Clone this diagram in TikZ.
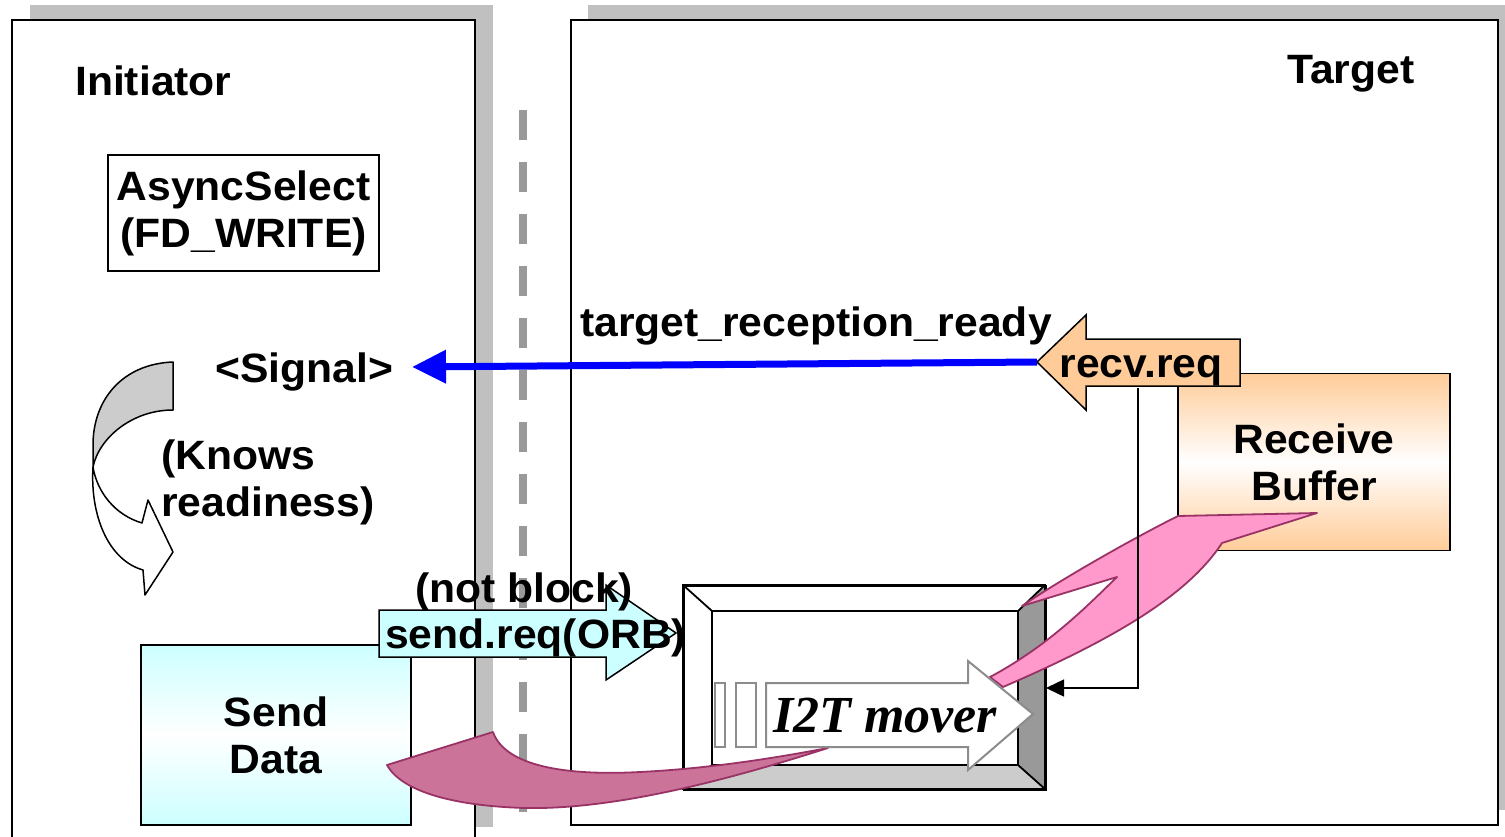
\documentclass[tikz,border=0pt]{standalone}
\usepackage{fontspec}
\setmainfont{Liberation Sans}[FakeStretch=1.04]
\newfontfamily\tnrfont{Liberation Serif}
\usetikzlibrary{arrows.meta}
\definecolor{shadowgray}{HTML}{C0C0C0}
\definecolor{dashgray}{HTML}{999999}
\definecolor{orangeC}{HTML}{FFCC99}
\definecolor{cyanC}{HTML}{CCFFFF}
\definecolor{pinkL}{HTML}{FF99CC}
\definecolor{pinkD}{HTML}{CC7399}
\definecolor{pinkS}{HTML}{993366}
\definecolor{curvegray}{HTML}{CCCCCC}
\definecolor{bevelD}{HTML}{999999}
\definecolor{bevelL}{HTML}{CCCCCC}
\definecolor{moverline}{HTML}{8C8C8C}
\newcommand\lblfont{\fontsize{41}{47}\selectfont\bfseries}
\tikzset{
  panelbox/.style={draw=black, line width=1.6pt, fill=white},
  shadowbox/.style={fill=shadowgray, draw=none},
  labelbox/.style={draw=black, line width=1.6pt, align=center, font=\lblfont, inner sep=0pt},
  lbl/.style={font=\lblfont, inner sep=0pt},
  blockarrow/.style={draw=black, line width=1.5pt, line join=miter},
  pinkshape/.style={draw=pinkS, line width=1.8pt, line join=round},
  bluearrow/.style={draw=blue, line width=7pt, -{Triangle[length=34pt,width=32pt]}},
  thinconn/.style={draw=black, line width=1.5pt, -{Triangle[length=18pt,width=17pt]}},
  moverarrow/.style={draw=moverline, line width=2pt, fill=white, line join=miter},
  dashline/.style={draw=dashgray, line width=8pt, dash pattern=on 30pt off 22pt}
}
\begin{document}
\begin{tikzpicture}[x=1pt,y=-1pt]
\useasboundingbox (0,0) rectangle (1505,837);
\clip (0,0) rectangle (1505,837);

% panels with shadows
\fill[shadowbox] (30,5) rectangle (493,827);
\draw[panelbox] (12,20) rectangle (475,845);
\fill[shadowbox] (588,5) rectangle (1515,810);
\draw[panelbox] (571,20) rectangle (1498,825);

% dashed separator
\draw[dashline] (523,110) -- (523,812);

% titles
\node[lbl, anchor=base west] (initiator) at (75,96) {Initiator};
\node[lbl, anchor=base west] (target) at (1287,84) {Target};

% AsyncSelect box
\node[labelbox, fill=white, minimum width=271pt, minimum height=116pt] (async) at (243.5,213) {AsyncSelect\\(FD\_WRITE)};

% Receive buffer
\node[labelbox, top color=orangeC, bottom color=orangeC, middle color=white,
      minimum width=272pt, minimum height=177pt] (rbuf) at (1314,462) {Receive\\Buffer};

% Send data
\node[labelbox, top color=cyanC, bottom color=cyanC, middle color=white,
      minimum width=270pt, minimum height=180pt] (sdata) at (276,735) {Send\\Data};

% curved arrow (knows readiness)
\filldraw[fill=curvegray, draw=black, line width=1.5pt, line join=round]
  (173,362) .. controls (122,364) and (93,400) .. (93,445) -- (93,467)
  .. controls (99,438) and (132,410) .. (173,410) -- cycle;
\filldraw[fill=white, draw=black, line width=1.5pt, line join=round]
  (93,467) .. controls (90,515) and (108,560) .. (143,570)
  -- (145,595) -- (173,552) -- (148,500) -- (142,523)
  .. controls (115,515) and (97,492) .. (93,467) -- cycle;

% I2T mover box (beveled)
\node[draw=black, line width=1.8pt, fill=white, minimum width=362pt, minimum height=204pt,
      inner sep=0pt, anchor=north west] (i2t) at (683,585) {};
\fill[bevelD] (1045,585) -- (1045,789) -- (1018,765) -- (1018,611) -- cycle;
\fill[bevelL] (683,789) -- (1045,789) -- (1018,765) -- (712,765) -- cycle;
\draw[line width=1.8pt] (683,585) rectangle (1045,789);
\draw[line width=1.8pt] (712,611) rectangle (1018,765);
\draw[line width=1.8pt] (683,585) -- (712,611) (1045,585) -- (1018,611)
  (683,789) -- (712,765) (1045,789) -- (1018,765);

% pink arrows
\filldraw[pinkshape, fill=pinkD]
  (387,765) -- (493,732) .. controls (505,766) and (565,776) .. (640,772)
  .. controls (720,768) and (790,755) .. (828,748)
  .. controls (740,776) and (620,810) .. (525,808)
  .. controls (455,806) and (402,792) .. (387,765) -- cycle;
\filldraw[pinkshape, fill=pinkL]
  (1317,513) -- (1178,516) .. controls (1130,540) and (1060,580) .. (1022,606)
  -- (1117,577) .. controls (1090,603) and (1050,645) .. (990,677)
  -- (1003,687) .. controls (1100,645) and (1185,600) .. (1222,543)
  -- cycle;

% I2T mover arrow
\draw[moverarrow] (715,683) rectangle (725,747);
\draw[moverarrow] (736,683) rectangle (756,747);
\draw[moverarrow] (766,683) -- (968,683) -- (968,661) -- (1033,714) -- (968,770) -- (968,747) -- (766,747) -- cycle;
\node[inner sep=0pt, anchor=base] (moverlbl) at (885,732) {\fontsize{52}{58}\selectfont\tnrfont\bfseries\itshape I2T mover};

% recv.req block arrow
\draw[blockarrow, fill=orangeC] (1037,362) -- (1086,315) -- (1086,339) -- (1240,339) -- (1240,386) -- (1086,386) -- (1086,410) -- cycle;
\node[lbl, anchor=base] (recvreq) at (1141,377) {recv.req};
\coordinate (recvtip) at (1037,362);
\coordinate (recvfoot) at (1138,388);
\coordinate (i2tport) at (1046,688);
\draw[thinconn] (recvfoot) |- (i2tport);

% blue signal arrow
\coordinate (sigtip) at (412,367);
\draw[bluearrow] (recvtip) -- (sigtip);
\node[lbl, anchor=base west] (signal) at (215,382) {<Signal>};
\node[lbl, anchor=base west] (trr) at (580,336) {target\_reception\_ready};

% knows readiness
\node[lbl, anchor=north west, align=left] (knows) at (161,440) {(Knows\\readiness)};

% send.req block arrow
\draw[blockarrow, fill=cyanC] (379,610) -- (606,610) -- (606,585) -- (676,633) -- (606,680) -- (606,657) -- (379,657) -- cycle;
\node[lbl, anchor=base west] (sendreq) at (385,648) {send.req(ORB)};
\node[lbl, anchor=base west] (notblock) at (415,602) {(not block)};
\end{tikzpicture}
\end{document}
